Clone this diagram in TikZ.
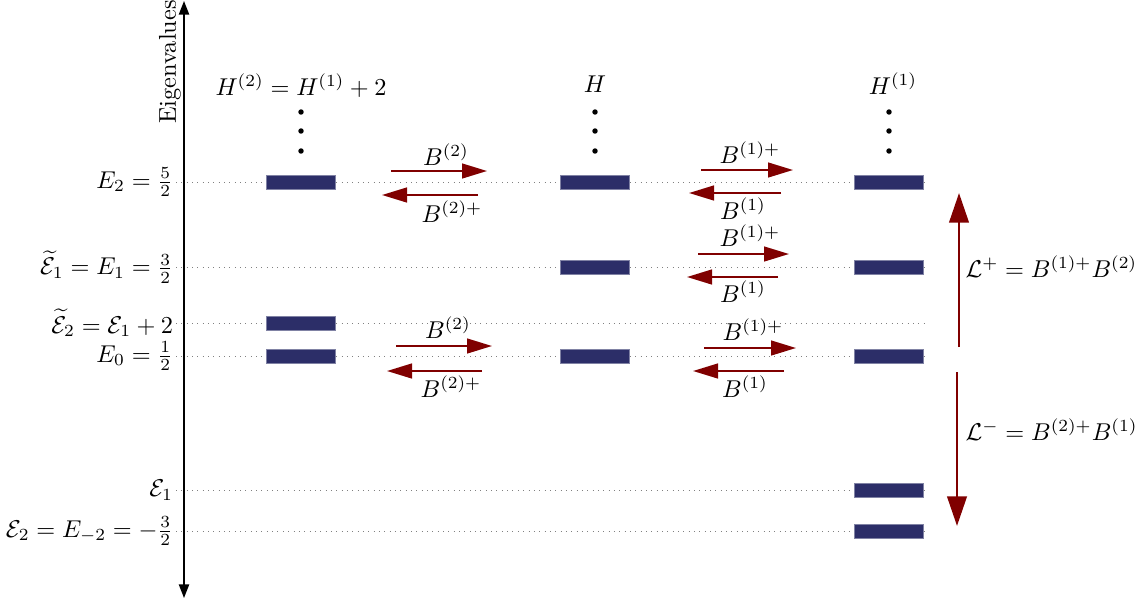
\documentclass[tikz,border=0pt]{standalone}
\usepackage{amsmath}
\usetikzlibrary{arrows.meta}
\definecolor{barblue}{RGB}{44,46,104}
\definecolor{darkred}{RGB}{128,0,0}
\tikzset{
  bar/.style={fill=barblue, draw=barblue!60!white, line width=0.2pt, minimum width=30.4pt, minimum height=6pt, inner sep=0pt},
  level/.style={gray, dotted, line width=0.35pt},
  harr/.style={darkred, line width=0.9pt, -{Triangle[length=11pt,width=6.5pt]}},
  varr/.style={darkred, line width=1.3pt, -{Triangle[length=13pt,width=8.5pt]}},
  lab/.style={inner sep=0pt, scale=1.07},
  llab/.style={anchor=east, inner sep=1pt, scale=1.07},
  dotn/.style={circle, fill=black, inner sep=0pt, minimum size=2.4pt},
}
\begin{document}
\begin{tikzpicture}[x=0.44pt, y=-0.44pt]
\useasboundingbox (0,0) rectangle (1143,603);
% axis
\coordinate (axtop) at (184,1);
\coordinate (axbot) at (184,598);
\draw[line width=0.7pt, {Triangle[length=6pt,width=4.5pt]}-{Triangle[length=6pt,width=4.5pt]}] (axbot) -- (axtop);
\node[rotate=90, lab] (eig) at (170,62) {Eigenvalues};
% levels
\foreach \yy/\nm in {182/lE2, 267/lE1, 323/lT2, 356/lE0, 490/lC1, 531/lC2} {
  \coordinate (\nm s) at (176,\yy);
  \coordinate (\nm e) at (927,\yy);
  \draw[level] (\nm s) -- (\nm e);
}
% level labels
\node[llab] (tE2) at (lE2s) {$E_2=\frac{5}{2}$};
\node[llab] (tE1) at (lE1s) {$\widetilde{\mathcal{E}}_1=E_1=\frac{3}{2}$};
\node[llab] (tT2) at (lT2s) {$\widetilde{\mathcal{E}}_2=\mathcal{E}_1+2$};
\node[llab] (tE0) at (lE0s) {$E_0=\frac{1}{2}$};
\node[llab] (tC1) at (lC1s) {$\mathcal{E}_1$};
\node[llab] (tC2) at (lC2s) {$\mathcal{E}_2=E_{-2}=-\frac{3}{2}$};
% column titles
\node[lab] (h2) at (301,86) {$H^{(2)}=H^{(1)}+2$};
\node[lab] (h) at (595,84) {$H$};
\node[lab] (h1) at (893,84) {$H^{(1)}$};
% dots
\foreach \xx/\c in {301/a, 595/b, 889/c} {
  \node[dotn] (\c d1) at (\xx,112) {};
  \node[dotn] (\c d2) at (\xx,131) {};
  \node[dotn] (\c d3) at (\xx,151) {};
}
% bars
\node[bar] (a1) at (301,182) {};
\node[bar] (a2) at (301,323) {};
\node[bar] (a3) at (301,356) {};
\node[bar] (b1) at (595,182) {};
\node[bar] (b2) at (595,267) {};
\node[bar] (b3) at (595,356) {};
\node[bar] (c1) at (889,182) {};
\node[bar] (c2) at (889,267) {};
\node[bar] (c3) at (889,356) {};
\node[bar] (c4) at (889,490) {};
\node[bar] (c5) at (889,531) {};
% left arrows (between H2 and H)
\coordinate (p1s) at (391,171); \coordinate (p1e) at (487,171);
\coordinate (p2s) at (478,195); \coordinate (p2e) at (382,195);
\draw[harr] (p1s) -- (p1e);
\draw[harr] (p2s) -- (p2e);
\node[lab] (lp1) at (446,155) {$B^{(2)}$};
\node[lab] (lp2) at (452,212) {$B^{(2)+}$};
\coordinate (p3s) at (396,346); \coordinate (p3e) at (492,346);
\coordinate (p4s) at (482,371); \coordinate (p4e) at (387,371);
\draw[harr] (p3s) -- (p3e);
\draw[harr] (p4s) -- (p4e);
\node[lab] (lp3) at (448,328) {$B^{(2)}$};
\node[lab] (lp4) at (451,387) {$B^{(2)+}$};
% right arrows (between H and H1)
\coordinate (q1s) at (701,170); \coordinate (q1e) at (793,170);
\coordinate (q2s) at (781,193); \coordinate (q2e) at (689,193);
\draw[harr] (q1s) -- (q1e);
\draw[harr] (q2s) -- (q2e);
\node[lab] (lq1) at (750,153) {$B^{(1)+}$};
\node[lab] (lq2) at (743,209) {$B^{(1)}$};
\coordinate (q3s) at (698,254); \coordinate (q3e) at (789,254);
\coordinate (q4s) at (778,277); \coordinate (q4e) at (687,277);
\draw[harr] (q3s) -- (q3e);
\draw[harr] (q4s) -- (q4e);
\node[lab] (lq3) at (750,236) {$B^{(1)+}$};
\node[lab] (lq4) at (743,292) {$B^{(1)}$};
\coordinate (q5s) at (704,348); \coordinate (q5e) at (796,348);
\coordinate (q6s) at (784,371); \coordinate (q6e) at (693,371);
\draw[harr] (q5s) -- (q5e);
\draw[harr] (q6s) -- (q6e);
\node[lab] (lq5) at (753,330) {$B^{(1)+}$};
\node[lab] (lq6) at (745,387) {$B^{(1)}$};
% big vertical arrows
\coordinate (lps) at (959,347); \coordinate (lpe) at (959,193);
\coordinate (lms) at (957,372); \coordinate (lme) at (957,526);
\draw[varr] (lps) -- (lpe);
\draw[varr] (lms) -- (lme);
\node[anchor=west, lab] (Lp) at (965,267) {$\mathcal{L}^{+}=B^{(1)+}B^{(2)}$};
\node[anchor=west, lab] (Lm) at (965,430) {$\mathcal{L}^{-}=B^{(2)+}B^{(1)}$};
\end{tikzpicture}
\end{document}
